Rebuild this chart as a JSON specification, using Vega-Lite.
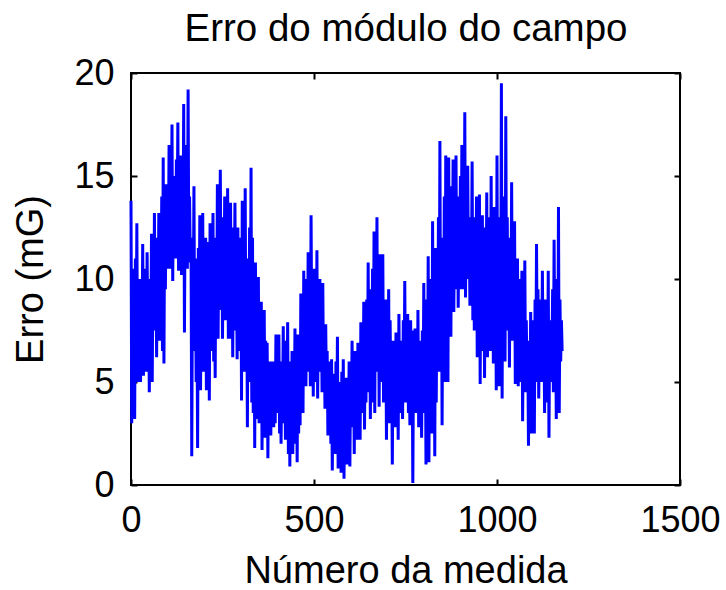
{
  "$schema": "https://vega.github.io/schema/vega-lite/v6.json",
  "width": 549,
  "height": 412,
  "autosize": "none",
  "padding": {"left": 131, "top": 73, "right": 46, "bottom": 105},
  "background": "white",
  "config": {
    "view": {"stroke": "black", "strokeWidth": 2},
    "axis": {"grid": false, "domain": false, "ticks": true, "tickColor": "black", "tickWidth": 2, "tickSize": -6, "labelFont": "Liberation Sans", "labelFontSize": 36, "labelColor": "black", "titleFont": "Liberation Sans", "titleFontSize": 38, "titleFontWeight": "normal", "titleColor": "black"}
  },
  "data": {"values": [
    {"n":0,"e":13.8},{"n":2,"e":3.0},{"n":4,"e":10.5},{"n":6,"e":4.2},{"n":8,"e":9.0},{"n":10,"e":3.2},{"n":12,"e":11.0},{"n":14,"e":6.5},{"n":16,"e":12.7},{"n":18,"e":5.0},
    {"n":20,"e":9.5},{"n":22,"e":6.0},{"n":24,"e":10.0},{"n":26,"e":5.0},{"n":28,"e":8.5},{"n":30,"e":7.0},{"n":32,"e":11.7},{"n":34,"e":5.3},{"n":36,"e":10.5},{"n":38,"e":6.5},
    {"n":40,"e":9.0},{"n":42,"e":5.5},{"n":44,"e":11.3},{"n":46,"e":7.0},{"n":48,"e":10.0},{"n":50,"e":4.5},{"n":52,"e":9.5},{"n":54,"e":6.5},{"n":56,"e":12.2},{"n":58,"e":5.0},
    {"n":60,"e":10.5},{"n":62,"e":7.5},{"n":64,"e":13.2},{"n":66,"e":8.0},{"n":68,"e":11.0},{"n":70,"e":6.2},{"n":72,"e":12.0},{"n":74,"e":8.5},{"n":76,"e":13.2},{"n":78,"e":7.0},
    {"n":80,"e":11.5},{"n":82,"e":9.0},{"n":84,"e":14.0},{"n":86,"e":6.5},{"n":88,"e":15.9},{"n":90,"e":5.9},{"n":92,"e":13.5},{"n":94,"e":9.5},{"n":96,"e":14.6},{"n":98,"e":10.5},
    {"n":100,"e":13.0},{"n":102,"e":11.0},{"n":104,"e":16.5},{"n":106,"e":10.5},{"n":108,"e":14.0},{"n":110,"e":12.0},{"n":112,"e":17.5},{"n":114,"e":9.9},{"n":116,"e":15.0},{"n":118,"e":11.5},
    {"n":120,"e":13.5},{"n":122,"e":11.0},{"n":124,"e":15.8},{"n":126,"e":12.5},{"n":128,"e":17.6},{"n":130,"e":10.4},{"n":132,"e":14.5},{"n":134,"e":11.0},{"n":136,"e":16.0},{"n":138,"e":10.2},
    {"n":140,"e":15.0},{"n":142,"e":12.0},{"n":144,"e":18.5},{"n":146,"e":7.4},{"n":148,"e":14.0},{"n":150,"e":11.0},{"n":152,"e":16.5},{"n":154,"e":10.5},{"n":156,"e":19.2},{"n":158,"e":11.0},
    {"n":160,"e":14.0},{"n":162,"e":10.8},{"n":164,"e":12.0},{"n":166,"e":1.4},{"n":168,"e":10.5},{"n":170,"e":8.0},{"n":172,"e":14.5},{"n":174,"e":6.5},{"n":176,"e":11.0},{"n":178,"e":5.0},
    {"n":180,"e":9.0},{"n":182,"e":1.8},{"n":184,"e":11.5},{"n":186,"e":6.0},{"n":188,"e":13.1},{"n":190,"e":4.6},{"n":192,"e":10.0},{"n":194,"e":7.0},{"n":196,"e":13.2},{"n":198,"e":5.5},
    {"n":200,"e":11.0},{"n":202,"e":6.0},{"n":204,"e":12.0},{"n":206,"e":4.6},{"n":208,"e":11.8},{"n":210,"e":7.5},{"n":212,"e":10.5},{"n":214,"e":4.1},{"n":216,"e":12.7},{"n":218,"e":6.5},
    {"n":220,"e":11.0},{"n":222,"e":8.0},{"n":224,"e":13.2},{"n":226,"e":6.0},{"n":228,"e":10.5},{"n":230,"e":5.2},{"n":232,"e":12.0},{"n":234,"e":7.5},{"n":236,"e":14.6},{"n":238,"e":7.1},
    {"n":240,"e":12.5},{"n":242,"e":8.5},{"n":244,"e":15.3},{"n":246,"e":9.0},{"n":248,"e":13.0},{"n":250,"e":7.1},{"n":252,"e":11.5},{"n":254,"e":9.5},{"n":256,"e":14.0},{"n":258,"e":8.0},
    {"n":260,"e":12.5},{"n":262,"e":9.5},{"n":264,"e":14.4},{"n":266,"e":7.1},{"n":268,"e":12.0},{"n":270,"e":8.5},{"n":272,"e":13.7},{"n":274,"e":7.1},{"n":276,"e":11.0},{"n":278,"e":6.2},
    {"n":280,"e":12.5},{"n":282,"e":8.5},{"n":284,"e":13.7},{"n":286,"e":7.5},{"n":288,"e":11.0},{"n":290,"e":6.1},{"n":292,"e":12.5},{"n":294,"e":8.0},{"n":296,"e":10.5},{"n":298,"e":6.5},
    {"n":300,"e":12.0},{"n":302,"e":4.1},{"n":304,"e":13.8},{"n":306,"e":7.0},{"n":308,"e":11.0},{"n":310,"e":5.5},{"n":312,"e":14.4},{"n":314,"e":6.0},{"n":316,"e":10.0},{"n":318,"e":2.8},
    {"n":320,"e":11.0},{"n":322,"e":5.0},{"n":324,"e":12.5},{"n":326,"e":6.5},{"n":328,"e":15.4},{"n":330,"e":4.0},{"n":332,"e":12.0},{"n":334,"e":3.5},{"n":336,"e":9.5},{"n":338,"e":1.8},
    {"n":340,"e":10.8},{"n":342,"e":3.2},{"n":344,"e":9.0},{"n":346,"e":4.5},{"n":348,"e":10.1},{"n":350,"e":3.0},{"n":352,"e":8.5},{"n":354,"e":4.0},{"n":356,"e":8.9},{"n":358,"e":1.7},
    {"n":360,"e":7.5},{"n":362,"e":3.0},{"n":364,"e":8.5},{"n":366,"e":2.3},{"n":368,"e":7.0},{"n":370,"e":3.5},{"n":372,"e":6.9},{"n":374,"e":1.3},{"n":376,"e":6.0},{"n":378,"e":2.5},
    {"n":380,"e":5.5},{"n":382,"e":2.4},{"n":384,"e":6.0},{"n":386,"e":3.5},{"n":388,"e":5.0},{"n":390,"e":2.8},{"n":392,"e":6.0},{"n":394,"e":3.0},{"n":396,"e":7.3},{"n":398,"e":4.0},
    {"n":400,"e":6.5},{"n":402,"e":3.5},{"n":404,"e":7.3},{"n":406,"e":2.5},{"n":408,"e":6.0},{"n":410,"e":2.0},{"n":412,"e":5.5},{"n":414,"e":3.5},{"n":416,"e":7.7},{"n":418,"e":3.0},
    {"n":420,"e":6.5},{"n":422,"e":2.2},{"n":424,"e":7.0},{"n":426,"e":3.5},{"n":428,"e":7.9},{"n":430,"e":1.5},{"n":432,"e":6.0},{"n":434,"e":0.9},{"n":436,"e":5.5},{"n":438,"e":2.5},
    {"n":440,"e":6.5},{"n":442,"e":1.5},{"n":444,"e":5.0},{"n":446,"e":3.0},{"n":448,"e":7.6},{"n":450,"e":2.0},{"n":452,"e":6.0},{"n":454,"e":1.1},{"n":456,"e":7.3},{"n":458,"e":2.5},
    {"n":460,"e":6.5},{"n":462,"e":2.9},{"n":464,"e":9.3},{"n":466,"e":4.0},{"n":468,"e":8.0},{"n":470,"e":3.5},{"n":472,"e":10.4},{"n":474,"e":5.0},{"n":476,"e":9.0},{"n":478,"e":4.8},
    {"n":480,"e":10.0},{"n":482,"e":6.0},{"n":484,"e":11.3},{"n":486,"e":5.5},{"n":488,"e":9.5},{"n":490,"e":4.8},{"n":492,"e":13.1},{"n":494,"e":6.5},{"n":496,"e":10.5},{"n":498,"e":4.3},
    {"n":500,"e":9.5},{"n":502,"e":6.0},{"n":504,"e":10.5},{"n":506,"e":5.0},{"n":508,"e":11.4},{"n":510,"e":4.2},{"n":512,"e":9.0},{"n":514,"e":5.5},{"n":516,"e":10.0},{"n":518,"e":6.0},
    {"n":520,"e":8.5},{"n":522,"e":4.5},{"n":524,"e":9.8},{"n":526,"e":5.0},{"n":528,"e":7.5},{"n":530,"e":3.7},{"n":532,"e":7.8},{"n":534,"e":4.5},{"n":536,"e":6.5},{"n":538,"e":2.4},
    {"n":540,"e":6.0},{"n":542,"e":3.0},{"n":544,"e":5.5},{"n":546,"e":2.0},{"n":548,"e":6.1},{"n":550,"e":0.7},{"n":552,"e":5.0},{"n":554,"e":2.5},{"n":556,"e":5.4},{"n":558,"e":1.5},
    {"n":560,"e":6.0},{"n":562,"e":2.5},{"n":564,"e":7.2},{"n":566,"e":0.8},{"n":568,"e":5.0},{"n":570,"e":2.0},{"n":572,"e":4.5},{"n":574,"e":0.6},{"n":576,"e":5.5},{"n":578,"e":1.8},
    {"n":580,"e":6.1},{"n":582,"e":0.3},{"n":584,"e":5.0},{"n":586,"e":2.0},{"n":588,"e":5.2},{"n":590,"e":1.0},{"n":592,"e":4.5},{"n":594,"e":2.5},{"n":596,"e":6.0},{"n":598,"e":0.9},
    {"n":600,"e":5.0},{"n":602,"e":2.8},{"n":604,"e":7.0},{"n":606,"e":3.0},{"n":608,"e":5.8},{"n":610,"e":1.5},{"n":612,"e":6.5},{"n":614,"e":3.5},{"n":616,"e":5.5},{"n":618,"e":2.2},
    {"n":620,"e":6.9},{"n":622,"e":3.0},{"n":624,"e":6.0},{"n":626,"e":2.2},{"n":628,"e":7.9},{"n":630,"e":4.0},{"n":632,"e":7.0},{"n":634,"e":3.5},{"n":636,"e":8.9},{"n":638,"e":2.7},
    {"n":640,"e":7.5},{"n":642,"e":4.0},{"n":644,"e":9.0},{"n":646,"e":5.0},{"n":648,"e":10.8},{"n":650,"e":4.5},{"n":652,"e":8.5},{"n":654,"e":3.2},{"n":656,"e":9.5},{"n":658,"e":5.5},
    {"n":660,"e":10.5},{"n":662,"e":4.0},{"n":664,"e":12.3},{"n":666,"e":3.5},{"n":668,"e":11.0},{"n":670,"e":6.0},{"n":672,"e":13.0},{"n":674,"e":5.5},{"n":676,"e":10.0},{"n":678,"e":3.8},
    {"n":680,"e":11.2},{"n":682,"e":5.0},{"n":684,"e":9.5},{"n":686,"e":6.5},{"n":688,"e":11.2},{"n":690,"e":4.0},{"n":692,"e":8.5},{"n":694,"e":5.5},{"n":696,"e":9.0},{"n":698,"e":2.2},
    {"n":700,"e":7.5},{"n":702,"e":4.5},{"n":704,"e":9.5},{"n":706,"e":3.0},{"n":708,"e":8.0},{"n":710,"e":4.0},{"n":712,"e":6.5},{"n":714,"e":1.0},{"n":716,"e":7.0},{"n":718,"e":3.5},
    {"n":720,"e":6.4},{"n":722,"e":2.8},{"n":724,"e":7.4},{"n":726,"e":4.0},{"n":728,"e":6.5},{"n":730,"e":2.2},{"n":732,"e":8.3},{"n":734,"e":3.5},{"n":736,"e":7.0},{"n":738,"e":4.5},
    {"n":740,"e":6.5},{"n":742,"e":3.2},{"n":744,"e":8.0},{"n":746,"e":4.5},{"n":748,"e":9.9},{"n":750,"e":4.0},{"n":752,"e":7.5},{"n":754,"e":5.0},{"n":756,"e":8.3},{"n":758,"e":3.5},
    {"n":760,"e":7.0},{"n":762,"e":2.9},{"n":764,"e":8.0},{"n":766,"e":4.0},{"n":768,"e":7.5},{"n":770,"e":0.1},{"n":772,"e":6.5},{"n":774,"e":3.5},{"n":776,"e":7.6},{"n":778,"e":4.5},
    {"n":780,"e":6.5},{"n":782,"e":3.5},{"n":784,"e":8.5},{"n":786,"e":2.8},{"n":788,"e":7.0},{"n":790,"e":4.0},{"n":792,"e":6.5},{"n":794,"e":2.3},{"n":796,"e":7.5},{"n":798,"e":4.0},
    {"n":800,"e":9.8},{"n":802,"e":3.5},{"n":804,"e":8.0},{"n":806,"e":1.0},{"n":808,"e":9.0},{"n":810,"e":4.5},{"n":812,"e":11.1},{"n":814,"e":1.1},{"n":816,"e":9.5},{"n":818,"e":3.0},
    {"n":820,"e":10.0},{"n":822,"e":2.5},{"n":824,"e":12.8},{"n":826,"e":5.0},{"n":828,"e":9.0},{"n":830,"e":1.4},{"n":832,"e":11.5},{"n":834,"e":4.0},{"n":836,"e":10.0},{"n":838,"e":6.0},
    {"n":840,"e":13.0},{"n":842,"e":5.5},{"n":844,"e":16.7},{"n":846,"e":6.0},{"n":848,"e":12.0},{"n":850,"e":2.9},{"n":852,"e":11.0},{"n":854,"e":6.5},{"n":856,"e":14.0},{"n":858,"e":5.0},
    {"n":860,"e":16.0},{"n":862,"e":7.5},{"n":864,"e":13.0},{"n":866,"e":5.0},{"n":868,"e":15.9},{"n":870,"e":8.0},{"n":872,"e":12.5},{"n":874,"e":7.2},{"n":876,"e":14.5},{"n":878,"e":9.0},
    {"n":880,"e":15.8},{"n":882,"e":8.4},{"n":884,"e":13.0},{"n":886,"e":10.0},{"n":888,"e":16.0},{"n":890,"e":9.5},{"n":892,"e":14.0},{"n":894,"e":8.6},{"n":896,"e":12.5},{"n":898,"e":10.0},
    {"n":900,"e":15.0},{"n":902,"e":9.5},{"n":904,"e":16.5},{"n":906,"e":10.5},{"n":908,"e":13.5},{"n":910,"e":9.5},{"n":912,"e":18.1},{"n":914,"e":9.1},{"n":916,"e":14.0},{"n":918,"e":11.0},
    {"n":920,"e":15.5},{"n":922,"e":10.0},{"n":924,"e":13.0},{"n":926,"e":8.7},{"n":928,"e":12.5},{"n":930,"e":9.5},{"n":932,"e":15.7},{"n":934,"e":8.0},{"n":936,"e":13.0},{"n":938,"e":7.5},
    {"n":940,"e":12.0},{"n":942,"e":8.0},{"n":944,"e":14.0},{"n":946,"e":6.2},{"n":948,"e":11.5},{"n":950,"e":7.0},{"n":952,"e":14.1},{"n":954,"e":4.9},{"n":956,"e":12.0},{"n":958,"e":6.5},
    {"n":960,"e":13.1},{"n":962,"e":7.0},{"n":964,"e":11.0},{"n":966,"e":5.2},{"n":968,"e":12.5},{"n":970,"e":7.5},{"n":972,"e":14.2},{"n":974,"e":6.2},{"n":976,"e":11.5},{"n":978,"e":8.0},
    {"n":980,"e":13.0},{"n":982,"e":6.5},{"n":984,"e":15.0},{"n":986,"e":8.0},{"n":988,"e":12.0},{"n":990,"e":5.9},{"n":992,"e":13.5},{"n":994,"e":7.5},{"n":996,"e":11.0},{"n":998,"e":4.6},
    {"n":1000,"e":16.0},{"n":1002,"e":6.5},{"n":1004,"e":12.0},{"n":1006,"e":4.8},{"n":1008,"e":13.0},{"n":1010,"e":7.0},{"n":1012,"e":19.5},{"n":1014,"e":4.2},{"n":1016,"e":14.0},{"n":1018,"e":8.0},
    {"n":1020,"e":12.5},{"n":1022,"e":6.0},{"n":1024,"e":17.9},{"n":1026,"e":9.0},{"n":1028,"e":13.0},{"n":1030,"e":7.5},{"n":1032,"e":11.0},{"n":1034,"e":5.7},{"n":1036,"e":12.0},{"n":1038,"e":8.5},
    {"n":1040,"e":14.7},{"n":1042,"e":7.0},{"n":1044,"e":11.5},{"n":1046,"e":8.0},{"n":1048,"e":12.8},{"n":1050,"e":4.9},{"n":1052,"e":10.0},{"n":1054,"e":6.5},{"n":1056,"e":11.0},{"n":1058,"e":4.8},
    {"n":1060,"e":9.5},{"n":1062,"e":6.0},{"n":1064,"e":10.0},{"n":1066,"e":5.0},{"n":1068,"e":10.4},{"n":1070,"e":3.1},{"n":1072,"e":8.5},{"n":1074,"e":5.5},{"n":1076,"e":10.9},{"n":1078,"e":4.5},
    {"n":1080,"e":8.0},{"n":1082,"e":5.0},{"n":1084,"e":7.0},{"n":1086,"e":1.9},{"n":1088,"e":6.5},{"n":1090,"e":4.0},{"n":1092,"e":8.4},{"n":1094,"e":2.5},{"n":1096,"e":7.0},{"n":1098,"e":3.5},
    {"n":1100,"e":8.0},{"n":1102,"e":2.5},{"n":1104,"e":9.0},{"n":1106,"e":5.0},{"n":1108,"e":11.7},{"n":1110,"e":6.0},{"n":1112,"e":9.5},{"n":1114,"e":4.2},{"n":1116,"e":8.0},{"n":1118,"e":5.5},
    {"n":1120,"e":9.0},{"n":1122,"e":5.0},{"n":1124,"e":10.4},{"n":1126,"e":6.0},{"n":1128,"e":8.5},{"n":1130,"e":3.5},{"n":1132,"e":9.0},{"n":1134,"e":5.5},{"n":1136,"e":7.5},{"n":1138,"e":4.0},
    {"n":1140,"e":10.4},{"n":1142,"e":2.3},{"n":1144,"e":8.0},{"n":1146,"e":5.0},{"n":1148,"e":7.0},{"n":1150,"e":5.7},{"n":1152,"e":9.5},{"n":1154,"e":4.5},{"n":1156,"e":11.9},{"n":1158,"e":6.0},
    {"n":1160,"e":8.5},{"n":1162,"e":3.2},{"n":1164,"e":10.0},{"n":1166,"e":4.5},{"n":1168,"e":13.5},{"n":1170,"e":3.5},{"n":1172,"e":9.0},{"n":1174,"e":6.0},{"n":1176,"e":8.0},{"n":1178,"e":6.5}
  ]},
  "layer": [
    {
      "mark": {"type": "line", "color": "#0000ff", "strokeWidth": 3, "strokeJoin": "bevel"},
      "encoding": {
        "x": {"field": "n", "type": "quantitative", "scale": {"domain": [0, 1500], "nice": false}, "axis": {"orient": "bottom", "values": [0, 500, 1000, 1500], "format": "d", "title": "Número da medida", "labelPadding": 24, "titlePadding": 14, "labelFlush": false}},
        "y": {"field": "e", "type": "quantitative", "scale": {"domain": [0, 20], "nice": false, "zero": false}, "axis": {"orient": "left", "values": [0, 5, 10, 15, 20], "format": "d", "title": "Erro (mG)", "labelPadding": 23, "titlePadding": 23, "labelFlush": false}}
      }
    },
    {
      "mark": {"type": "line", "strokeOpacity": 0},
      "encoding": {
        "x": {"field": "n", "type": "quantitative", "axis": {"orient": "top", "values": [0, 500, 1000, 1500], "labels": false, "title": "Erro do módulo do campo", "titleFontSize": 38.5, "titleBaseline": "alphabetic", "titlePadding": 32}},
        "y": {"field": "e", "type": "quantitative", "axis": {"orient": "right", "values": [0, 5, 10, 15, 20], "labels": false, "title": null}}
      }
    }
  ],
  "resolve": {"axis": {"x": "independent", "y": "independent"}}
}
